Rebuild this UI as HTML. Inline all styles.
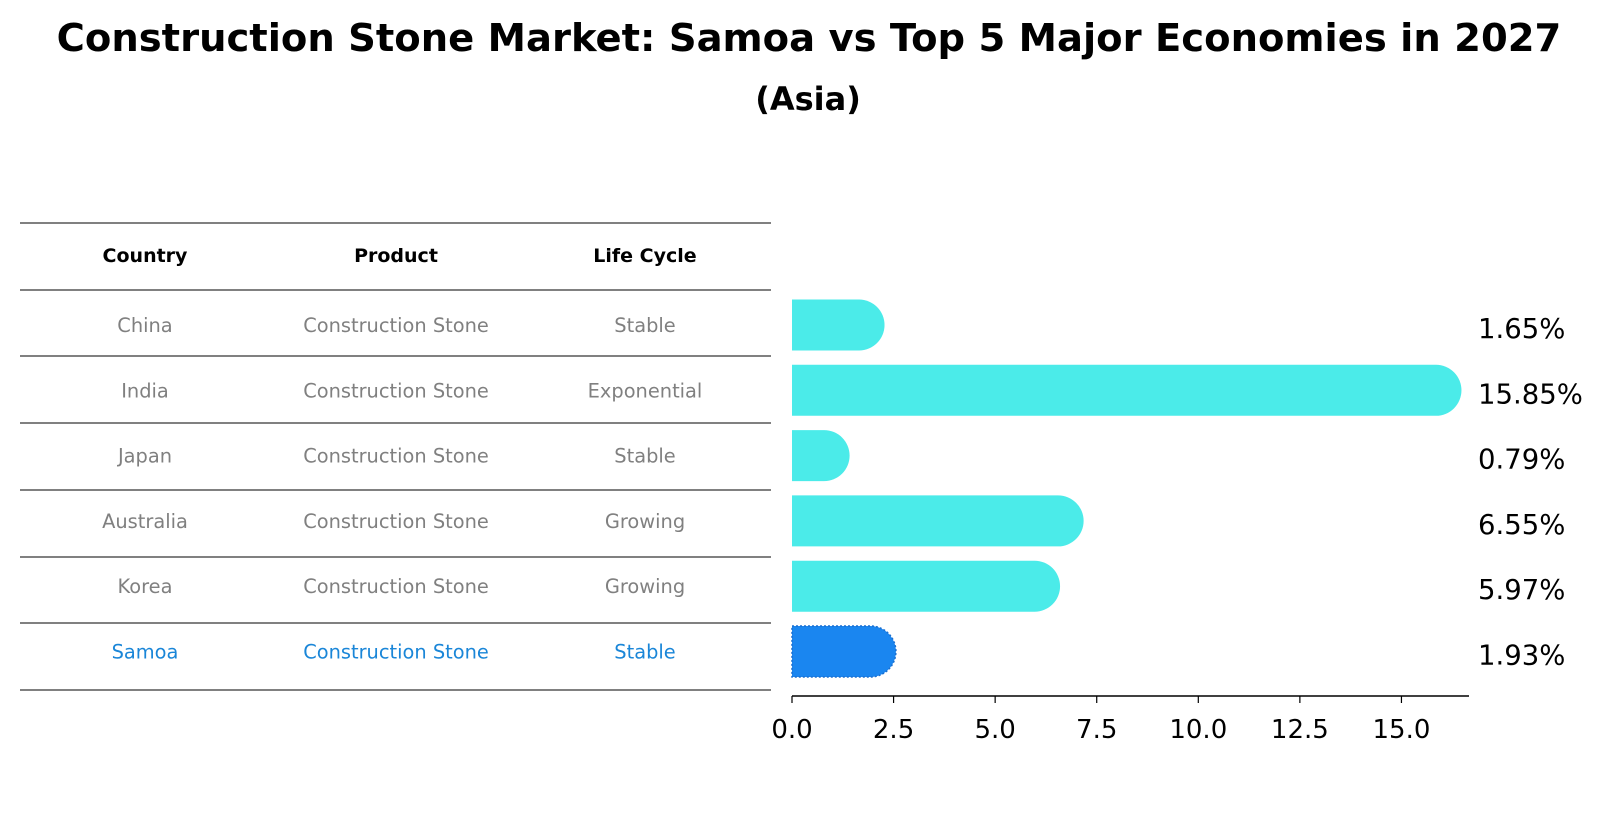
<!DOCTYPE html>
<html><head><meta charset="utf-8"><style>
body{margin:0;background:#fff;font-family:"Liberation Sans","DejaVu Sans",sans-serif;}
svg text{font-family:"DejaVu Sans","Liberation Sans",sans-serif;}
</style></head><body>
<svg width="1604" height="823" xmlns="http://www.w3.org/2000/svg">
<text x="809" y="51" text-anchor="middle" font-size="38.5" font-weight="bold">Construction Stone Market: Samoa vs Top 5 Major Economies in 2027</text>
<text x="808" y="110" text-anchor="middle" font-size="32" font-weight="bold">(Asia)</text>
<g id="table"></g>
<g id="bars"></g>
</svg>
<script>
const countries=["China","India","Japan","Australia","Korea","Samoa"];
const products=["Construction Stone","Construction Stone","Construction Stone","Construction Stone","Construction Stone","Construction Stone"];
const lifeCycles=["Stable","Exponential","Stable","Growing","Growing","Stable"];
const values=[1.65,15.85,0.79,6.55,5.97,1.93];
const xTicks=[0,2.5,5,7.5,10,12.5,15];
const NS="http://www.w3.org/2000/svg";
function mk(t,a,p){const e=document.createElementNS(NS,t);for(const k in a)e.setAttribute(k,a[k]);p.appendChild(e);return e;}
const tbl=document.getElementById('table'),bars=document.getElementById('bars');
const x=v=>792+v*40.63;
const rowY=i=>325+i*65.3;
const lineYs=[223,290,356,423,490,557,623,690];
lineYs.forEach(y=>{const l=mk('line',{x1:20,x2:771,y1:y,y2:y,stroke:'#000','stroke-width':1},tbl);

});
const colX=[145,396,645];
["Country","Product","Life Cycle"].forEach((h,j)=>{const t=mk('text',{x:colX[j],y:262,'text-anchor':'middle','font-size':19,'font-weight':'bold'},tbl);t.textContent=h;

});
countries.forEach((c,i)=>{const col=c==="Samoa"?"#1a86d8":"#808080";
[c,products[i],lifeCycles[i]].forEach((s,j)=>{const t=mk('text',{x:colX[j],y:rowY(i)+7,'text-anchor':'middle','font-size':19.4,fill:col},tbl);t.textContent=s;

});
const y0=rowY(i)-25.5,h=51,r=25.5,x0=x(0),x1=x(values[i]);
const d=`M${x0},${y0}H${x1}A${r},${r} 0 0 1 ${x1},${y0+h}H${x0}Z`;
const samoa=c==="Samoa";
const p=mk('path',{d:d,fill:samoa?'#1a86f0':'#4bebe9',stroke:samoa?'#1a6fd0':'none','stroke-width':samoa?1.5:0,'stroke-dasharray':'2,2'},bars);


const lb=mk('text',{x:1478,y:rowY(i)+13,'font-size':27.5},bars);lb.textContent=values[i].toFixed(2)+'%';

});
const ax=mk('line',{x1:792,x2:1469,y1:696,y2:696,stroke:'#000','stroke-width':1.5},bars);


xTicks.forEach(v=>{const tk=mk('line',{x1:x(v),x2:x(v),y1:696,y2:703,stroke:'#000','stroke-width':1.2},bars);


const t=mk('text',{x:x(v),y:738,'text-anchor':'middle','font-size':26},bars);t.textContent=v.toFixed(1);

});
</script>
</body></html>
